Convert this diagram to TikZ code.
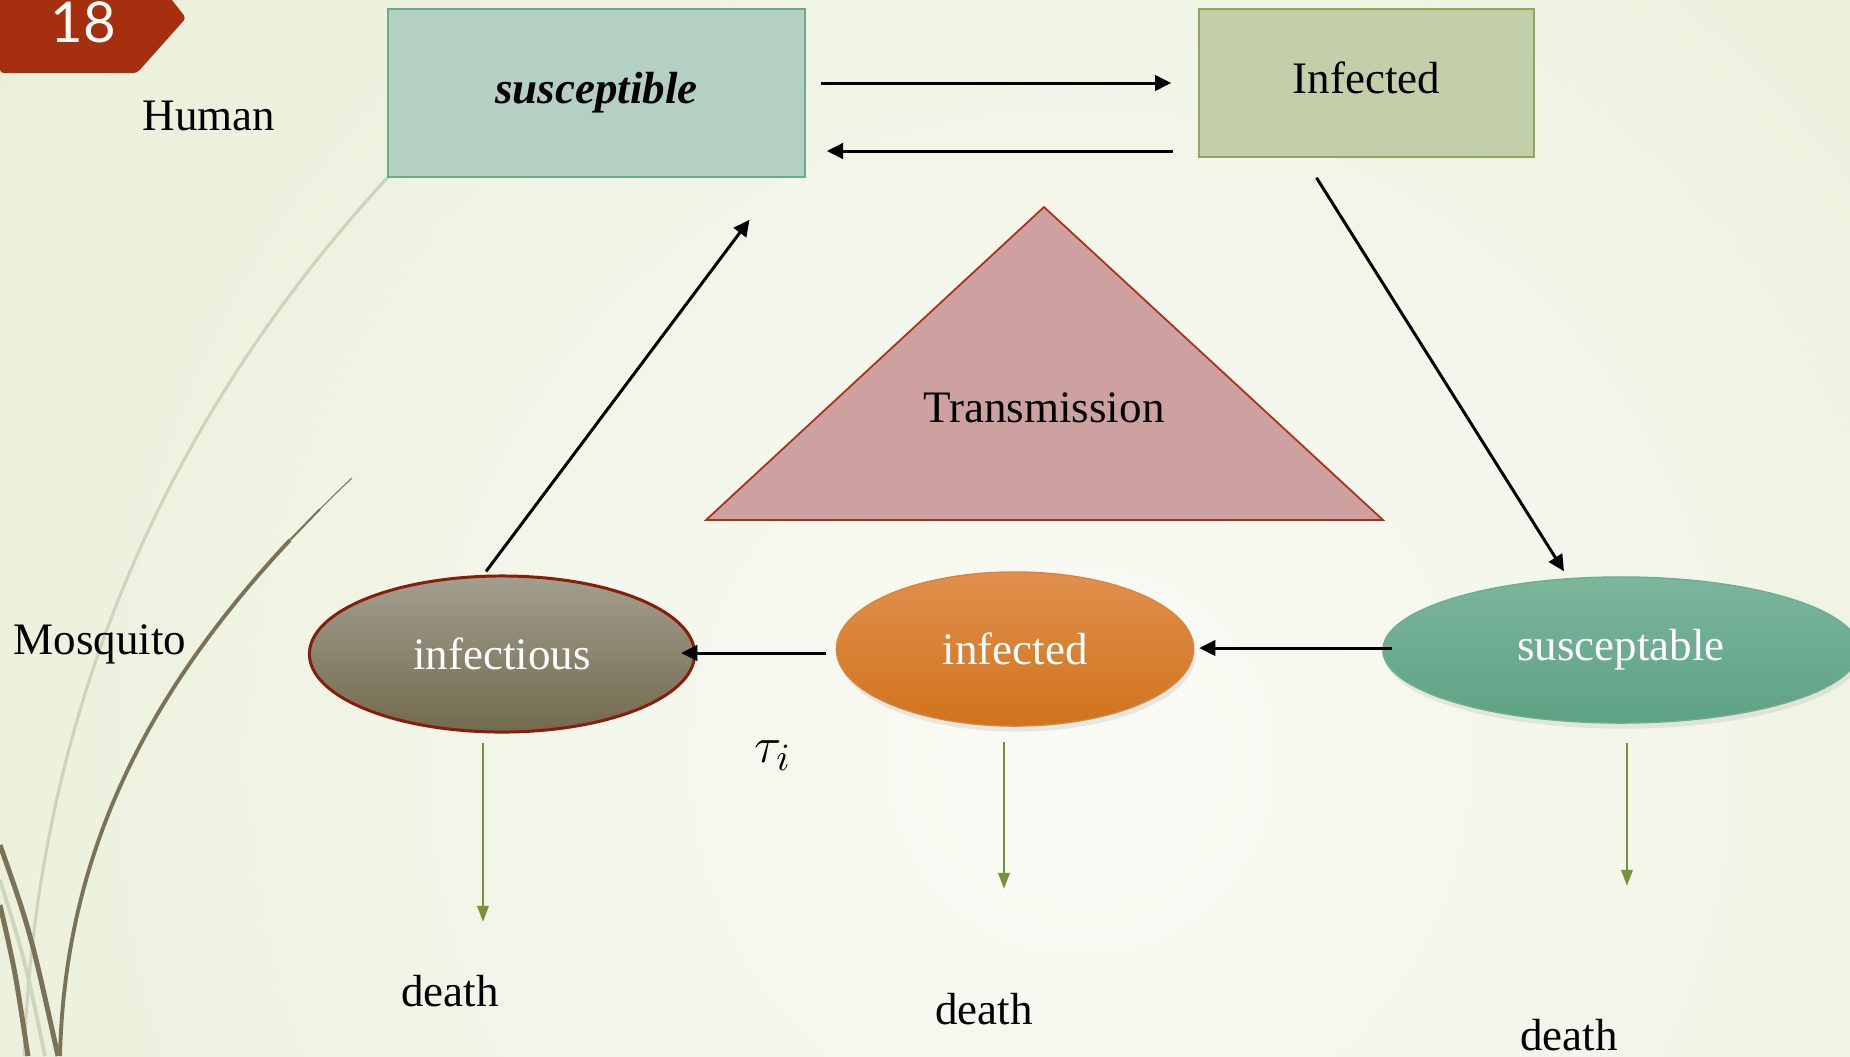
\documentclass[tikz,border=0pt]{standalone}
\usepackage{fontspec}
\setmainfont{Liberation Serif}
\newfontfamily\numfont{Lato}
\usepackage{tikz}
\usetikzlibrary{shapes,arrows.meta,positioning,calc,shadows}

\definecolor{bgout}{HTML}{E0E9C8}
\definecolor{bgin}{HTML}{FAFBF6}
\definecolor{swlight}{HTML}{D0D4BC}
\definecolor{swdark}{HTML}{7A7358}
\definecolor{badgered}{HTML}{A62F10}
\definecolor{susfill}{HTML}{B3D0C3}
\definecolor{susedge}{HTML}{6DAA8C}
\definecolor{inffill}{HTML}{C3CFA9}
\definecolor{infedge}{HTML}{8FA85B}
\definecolor{trifill}{HTML}{CCA1A0}
\definecolor{triedge}{HTML}{B02E1A}
\definecolor{infstop}{HTML}{A39F8F}
\definecolor{infsbot}{HTML}{726A4D}
\definecolor{infsedge}{HTML}{8A1C0A}
\definecolor{minftop}{HTML}{E0904E}
\definecolor{minfbot}{HTML}{D1731B}
\definecolor{minfedge}{HTML}{D9843C}
\definecolor{msustop}{HTML}{7BB69D}
\definecolor{msusbot}{HTML}{5DA284}
\definecolor{msusedge}{HTML}{6DAD90}
\definecolor{deathgreen}{HTML}{76923C}

\newcommand{\lbl}{\fontsize{12.8}{15}\selectfont}

\tikzset{
  hbox/.style={rectangle, draw, line width=0.4pt, inner sep=0pt, font=\lbl},
  mstage/.style={ellipse, inner sep=0pt, text=white, font=\lbl},
  link/.style={-{Triangle[length=4.6pt,width=4.4pt]}, line width=0.85pt},
  dies/.style={-{Triangle[length=4.6pt,width=3.2pt]}, line width=0.75pt, draw=deathgreen},
  soft/.style={drop shadow={shadow xshift=0.6pt, shadow yshift=-1.6pt, opacity=0.15}}
}

\begin{document}
\begin{tikzpicture}[x=0.01cm, y=-0.01cm, font=\lbl]
  % Background
  \useasboundingbox (0,0) rectangle (1850,1056);
  \fill[bgout] (0,0) rectangle (1850,1056);
  \begin{scope}
    \clip (0,0) rectangle (1850,1056);
    \shade[inner color=bgin, outer color=bgout] (1080,760) circle (2000);
    % swooshes on the left
    \draw[swlight, line width=0.9pt] (388,177) .. controls (220,360) and (40,640) .. (24,1056);
    \draw[swdark, line width=0.3pt] (352,478) .. controls (335,494) .. (320,509);
    \draw[swdark, line width=0.6pt] (320,509) .. controls (305,524) .. (290,540);
    \draw[swdark, line width=1.1pt] (290,540) .. controls (150,690) and (65,850) .. (60,1056);
    \draw[swlight, line width=1.1pt] (0,880) .. controls (25,960) .. (45,1056);
    \draw[swdark, line width=1.4pt] (0,845) .. controls (30,930) .. (58,1056);
    \draw[swdark, line width=1.4pt] (0,905) .. controls (15,970) .. (28,1056);
  \end{scope}

  % Slide number
  \fill[badgered, rounded corners=1pt] (0,-5) -- (168,-5) -- (186,18) -- (137,73) -- (0,73) -- cycle;
  \node[font=\numfont\fontsize{16}{18}\selectfont, text=white] (num) at (83,22) {18};

  % Side labels
  \node (human) at (209,116) {Human};
  \node (mosq) at (100,644) {Mosquito};

  % Human stages
  \node[hbox, draw=susedge, fill=susfill, minimum width=4.17cm, minimum height=1.68cm,
        font=\lbl\bfseries\itshape] (hsus) at (596.5,93) {susceptible};
  \node[hbox, draw=infedge, fill=inffill, minimum width=3.35cm, minimum height=1.48cm,
        text depth=0.1cm] (hinf) at (1366.5,83) {Infected};

  % Transmission
  \draw[draw=triedge, fill=trifill, line width=0.5pt] (1044,207) -- (1383,520) -- (706,520) -- cycle;
  \node (trans) at (1044,408) {Transmission};

  % Mosquito stages
  \node[mstage, draw=infsedge, line width=0.85pt, top color=infstop, bottom color=infsbot,
        minimum width=3.85cm, minimum height=1.56cm] (minfs) at (502,654) {infectious};
  \node[mstage, soft, draw=minfedge, line width=0.4pt, top color=minftop, bottom color=minfbot,
        minimum width=3.57cm, minimum height=1.54cm] (minf) at (1015,649) {infected};
  \node[mstage, soft, draw=msusedge, line width=0.4pt, top color=msustop, bottom color=msusbot,
        minimum width=4.76cm, minimum height=1.46cm] (msus) at (1621,650) {susceptable};

  \node[font=\fontsize{15}{18}\selectfont] (tau) at (773,756) {$\tau_i$};

  % Deaths
  \node (d1) at (450,991) {death};
  \node (d2) at (984,1009) {death};
  \node (d3) at (1569,1035) {death};
  \coordinate (e1) at (483,922);
  \coordinate (e2) at (1004,889);
  \coordinate (e3) at (1627,886);

  % Arrows
  \draw[link] ($(hsus.east)+(15,-10)$) -- ($(hinf.west)+(-27,0)$);
  \draw[link] ($(hinf.west)+(-25,68)$) -- ($(hsus.east)+(21,58)$);
  \draw[link] ($(hinf.south)+(-50,20)$) -- ($(msus.north)+(-57,-5)$);
  \draw[link] ($(minfs.north)+(-16,-3)$) -- ($(hsus.south)+(153,42)$);
  \draw[link] ($(minf.west)+(-10,4)$) -- ($(minfs.east)+(-15,-1)$);
  \draw[link] ($(msus.west)+(10,-2)$) -- ($(minf.east)+(5,-1)$);
  \draw[dies] ($(minfs.south)+(-19,9)$) -- (e1);
  \draw[dies] ($(minf.south)+(-11,15)$) -- (e2);
  \draw[dies] ($(msus.south)+(6,19)$) -- (e3);
\end{tikzpicture}
\end{document}
